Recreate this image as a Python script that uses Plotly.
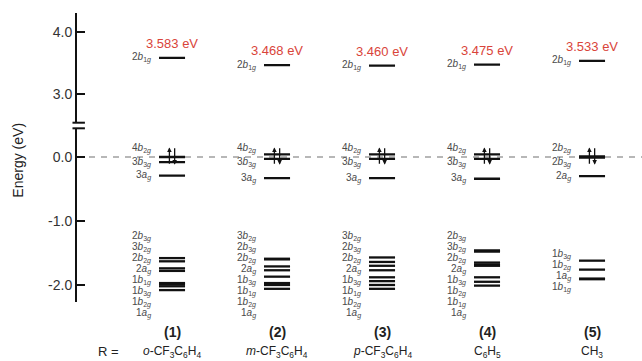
import plotly.graph_objects as go

# ---------------- data ----------------
compounds = ["(1)", "(2)", "(3)", "(4)", "(5)"]
substituents = ["<i>o</i>-CF<sub>3</sub>C<sub>6</sub>H<sub>4</sub>",
                "<i>m</i>-CF<sub>3</sub>C<sub>6</sub>H<sub>4</sub>",
                "<i>p</i>-CF<sub>3</sub>C<sub>6</sub>H<sub>4</sub>",
                "C<sub>6</sub>H<sub>5</sub>",
                "CH<sub>3</sub>"]

# LUMO (2b1g) energies, eV
lumo = [3.583, 3.468, 3.460, 3.475, 3.533]
lumo_text = ["3.583 eV", "3.468 eV", "3.460 eV", "3.475 eV", "3.533 eV"]
lumo_label = ["2b1g"] * 5

# frontier occupied levels (HOMO, HOMO-1) and next level
homo = [0.00, 0.04, 0.04, 0.04, 0.01]
homo1 = [-0.08, -0.03, -0.03, -0.03, -0.01]
third = [-0.29, -0.33, -0.33, -0.34, -0.30]
mid_labels = [
    ["4b2g", "3b3g", "3ag"],
    ["4b2g", "3b3g", "3ag"],
    ["4b2g", "3b3g", "3ag"],
    ["4b2g", "3b3g", "3ag"],
    ["2b2g", "2b3g", "2ag"],
]

# deeper occupied levels
low_levels = [
    [-1.58, -1.63, -1.74, -1.78, -1.97, -1.99, -2.02, -2.08],
    [-1.59, -1.60, -1.71, -1.77, -1.87, -1.97, -2.00, -2.06],
    [-1.57, -1.64, -1.70, -1.77, -1.88, -1.94, -2.00, -2.06],
    [-1.46, -1.48, -1.65, -1.68, -1.70, -1.88, -1.95, -2.01],
    [-1.62, -1.76, -1.90, -1.91],
]
low_labels = [
    ["2b3g", "3b2g", "2b2g", "2ag", "1b1g", "1b3g", "1b2g", "1ag"],
    ["3b2g", "2b3g", "2b2g", "2ag", "1b3g", "1b1g", "1b2g", "1ag"],
    ["3b2g", "2b3g", "2b2g", "2ag", "1b3g", "1b1g", "1b2g", "1ag"],
    ["2b3g", "3b2g", "2b2g", "2ag", "1b3g", "1b2g", "1b1g", "1ag"],
    ["1b3g", "1b2g", "1ag", "1b1g"],
]

tick_vals_low = [0, -1, -2]
tick_text_low = ["0.0", "-1.0", "-2.0"]
tick_vals_up = [3, 4]
tick_text_up = ["3.0", "4.0"]


def fmt(lbl):
    # "2b3g" -> 2<i>b</i><sub>3<i>g</i></sub>
    n, orb, sub = lbl[0], lbl[1], lbl[2:]
    if len(sub) == 2:
        s = sub[0] + "<i>" + sub[1] + "</i>"
    else:
        s = "<i>" + sub + "</i>"
    return n + "<i>" + orb + "</i><sub>" + s + "</sub>"


# ---------------- layout constants ----------------
xc = [1, 2, 3, 4, 5]
hw = 0.124
lbl_dx = 0.185
ink = "#111111"
lblc = "#4a4a4a"
red = "#d9443a"
FONT = "Liberation Sans, Arial, sans-serif"
LOW_DOM = [0, 0.601]
LOW_RANGE = [-2.266, 0.448]
UP_DOM = [0.6204, 1]
UP_RANGE = [2.546, 4.30]


def low_paper(e):
    return LOW_DOM[0] + (e - LOW_RANGE[0]) / (LOW_RANGE[1] - LOW_RANGE[0]) * (LOW_DOM[1] - LOW_DOM[0])


fig = go.Figure()


def segs(centers, energies_list):
    xs, ys = [], []
    for c, es in zip(centers, energies_list):
        for e in es:
            xs += [c - hw, c + hw, None]
            ys += [e, e, None]
    return xs, ys


x_up, y_up = segs(xc, [[v] for v in lumo])
fig.add_trace(go.Scatter(x=x_up, y=y_up, mode="lines", yaxis="y2",
                         line=dict(color=ink, width=2.3), hoverinfo="skip", showlegend=False))
lower_all = [[h, h1, t] + lo for h, h1, t, lo in zip(homo, homo1, third, low_levels)]
x_lo, y_lo = segs(xc, lower_all)
fig.add_trace(go.Scatter(x=x_lo, y=y_lo, mode="lines", yaxis="y",
                         line=dict(color=ink, width=2.3), hoverinfo="skip", showlegend=False))

ann = []
lab_font = dict(family=FONT, size=10, color=lblc)
for i, c in enumerate(xc):
    ann.append(dict(x=c, y=lumo[i] + 0.23, xref="x", yref="y2", text=lumo_text[i],
                    showarrow=False, font=dict(family=FONT, size=13, color=red)))
    ann.append(dict(x=c - lbl_dx, y=lumo[i], xref="x", yref="y2", text=fmt(lumo_label[i]),
                    showarrow=False, xanchor="right", yanchor="middle", font=lab_font))
    mids_y = [0.14, -0.08, third[i]]
    for ml, my in zip(mid_labels[i], mids_y):
        ann.append(dict(x=c - lbl_dx, y=low_paper(my), xref="x", yref="paper", text=fmt(ml),
                        showarrow=False, xanchor="right", yanchor="middle", font=lab_font))
    start = -1.25 if len(low_labels[i]) > 4 else -1.53
    for k, ll in enumerate(low_labels[i]):
        ann.append(dict(x=c - lbl_dx, y=low_paper(start - 0.17 * k), xref="x", yref="paper",
                        text=fmt(ll), showarrow=False, xanchor="right", yanchor="middle",
                        font=lab_font))
    # spin arrows
    ann.append(dict(x=c - 0.025, y=0.15, ax=c - 0.025, ay=-0.13, xref="x", yref="y",
                    axref="x", ayref="y", text="", showarrow=True, arrowhead=2,
                    arrowsize=0.7, arrowwidth=1.3, arrowcolor=ink))
    ann.append(dict(x=c + 0.025, y=-0.12, ax=c + 0.025, ay=0.16, xref="x", yref="y",
                    axref="x", ayref="y", text="", showarrow=True, arrowhead=2,
                    arrowsize=0.7, arrowwidth=1.3, arrowcolor=ink))
    ann.append(dict(x=c, y=-0.104, xref="x", yref="paper", text="<b>" + compounds[i] + "</b>",
                    showarrow=False, yanchor="middle", font=dict(family=FONT, size=14, color="#222")))
    ann.append(dict(x=c, y=-0.173, xref="x", yref="paper", text=substituents[i],
                    showarrow=False, yanchor="middle", font=dict(family=FONT, size=12, color="#222")))

ann.append(dict(x=0.055, y=-0.173, xref="paper", yref="paper", text="R =", showarrow=False,
                xanchor="center", yanchor="middle", font=dict(family=FONT, size=13, color="#222")))
ann.append(dict(x=-0.104, y=0.49, xref="paper", yref="paper", text="Energy (eV)",
                textangle=-90, showarrow=False, xanchor="center", yanchor="middle",
                font=dict(family=FONT, size=14, color="#222222")))

shapes = [
    dict(type="line", xref="paper", yref="y", x0=0.0, x1=1.0, y0=0, y1=0,
         line=dict(color="#a0a0a0", width=1.5, dash="6px,6px"), layer="below"),
    dict(type="line", xref="paper", yref="paper", x0=-0.008, x1=0.014, y0=UP_DOM[0], y1=UP_DOM[0],
         line=dict(color=ink, width=2)),
    dict(type="line", xref="paper", yref="paper", x0=-0.008, x1=0.014, y0=LOW_DOM[1], y1=LOW_DOM[1],
         line=dict(color=ink, width=2)),
]

axis_common = dict(showline=True, linecolor=ink, linewidth=2, ticks="inside", ticklen=8,
                   tickwidth=2, tickcolor=ink, showgrid=False, zeroline=False,
                   tickfont=dict(family=FONT, size=14, color="#333"), anchor="x")

fig.update_layout(
    width=642, height=361,
    margin=dict(l=77, r=0, t=13, b=59),
    paper_bgcolor="white", plot_bgcolor="white",
    xaxis=dict(range=[0.095, 5.476], visible=False),
    yaxis=dict(domain=LOW_DOM, range=LOW_RANGE, tickvals=tick_vals_low,
               ticktext=tick_text_low, **axis_common),
    yaxis2=dict(domain=UP_DOM, range=UP_RANGE, tickvals=tick_vals_up,
                ticktext=tick_text_up, **axis_common),
    annotations=ann,
    shapes=shapes,
)

fig.write_html("out.html", config={"displayModeBar": False},
               post_script="document.body.style.margin='0';")
